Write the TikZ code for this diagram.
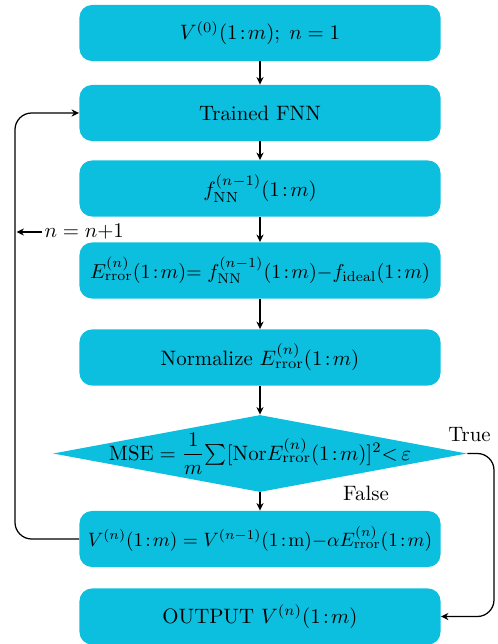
\documentclass[tikz,border=0pt]{standalone}
\usepackage{amsmath}
\usetikzlibrary{arrows.meta,shapes.geometric}
\definecolor{boxc}{RGB}{13,191,223}
\newcommand\rng{(1\mkern2mu{:}\mkern2mu m)}
\begin{document}
\begin{tikzpicture}[x=0.48pt,y=-0.48pt,
  stepbox/.style={fill=boxc,rounded corners=6pt,minimum width=173.3pt,minimum height=26.9pt,inner sep=0pt,text=black},
  arr/.style={line width=0.6pt,-{Stealth[length=3.6pt,width=3.4pt]}},
  lbl/.style={inner sep=1pt,text=black}]
\useasboundingbox (0,0) rectangle (497,644);
\node[stepbox] (b1) at (260,33) {$V^{(0)}\rng;\;n=1$};
\node[stepbox] (b2) at (260,113) {Trained FNN};
\node[stepbox] (b3) at (260,188.5) {$f_{\mathrm{NN}}^{(n-1)}\rng$};
\node[stepbox] (b4) at (260,270.5) {\scalebox{0.965}{$E_{\mathrm{rror}}^{(n)}\rng{=}\;f_{\mathrm{NN}}^{(n-1)}\rng{-}f_{\mathrm{ideal}}\rng$}};
\node[stepbox] (b5) at (260,357.5) {Normalize $E_{\mathrm{rror}}^{(n)}\rng$};
\node[diamond,fill=boxc,minimum width=198.7pt,minimum height=37pt,inner sep=0pt] (d) at (260,453.5) {};
\node[lbl] (dt) at (d.center) {$\mathrm{MSE}=\dfrac{1}{m}{\textstyle\sum}[\mathrm{Nor}E_{\mathrm{rror}}^{(n)}\rng]^2{<}\,\varepsilon$};
\node[stepbox] (b6) at (260,539) {\scalebox{0.93}{$V^{(n)}\rng=V^{(n-1)}(1\mkern2mu{:}\mkern2mu\mathrm{m}){-}\alpha E_{\mathrm{rror}}^{(n)}\rng$}};
\node[stepbox] (b7) at (260,616.5) {OUTPUT $V^{(n)}\rng$};
\draw[arr] (b1) -- (b2);
\draw[arr] (b2) -- (b3);
\draw[arr] (b3) -- (b4);
\draw[arr] (b4) -- (b5);
\draw[arr] (b5) -- (d);
\draw[arr] (d) -- (b6);
\coordinate (L) at (15,539);
\coordinate (R) at (494,453.5);
\draw[arr,rounded corners=8pt] (b6.west) -- (L) |- (b2.west);
\draw[arr,rounded corners=8pt] (d.east) -- (R) |- (b7.east);
\node[lbl,anchor=west] (inc) at (42,232) {$n=n{+}1$};
\coordinate (lp) at (16.5,232);
\draw[arr] (inc.west) -- (lp);
\node[lbl] (tr) at (469.5,435) {True};
\node[lbl] (fa) at (366,493) {False};
\end{tikzpicture}
\end{document}
